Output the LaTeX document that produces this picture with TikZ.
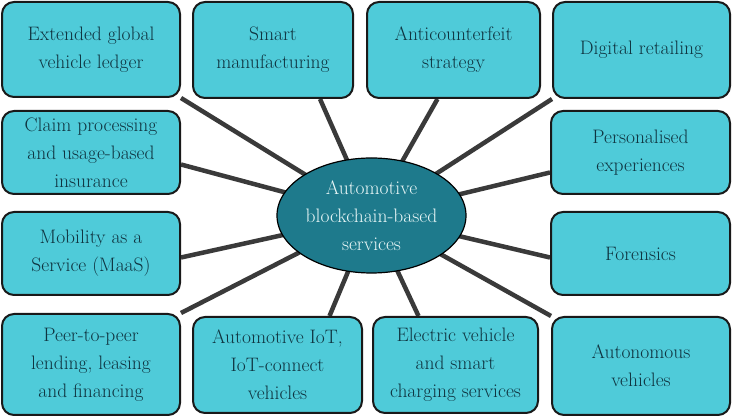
\documentclass[tikz,border=0pt]{standalone}
\usetikzlibrary{backgrounds,shapes.geometric}

\definecolor{boxfill}{HTML}{4FCBD9}
\definecolor{boxtext}{HTML}{0F3440}
\definecolor{hubfill}{HTML}{1E7A8C}
\definecolor{hubtext}{HTML}{E8F6F6}
\definecolor{spoke}{HTML}{3A3A3A}

\begin{document}
\begin{tikzpicture}[
  x=1pt, y=1pt,
  every node/.style={font=\fontsize{19.5}{28}\selectfont, align=center, inner sep=0pt},
  item/.style={rectangle, rounded corners=12pt, draw=black!90, line width=2pt,
    fill=boxfill, text=boxtext},
  hubnode/.style={ellipse, draw=black, line width=1.2pt, fill=hubfill, text=hubtext,
    minimum width=189pt, minimum height=115pt},
  link/.style={spoke, line width=4.5pt}
]
\useasboundingbox (0,0) rectangle (732,419);

% ---------- top row ----------
\node[item, minimum width=178pt, minimum height=95pt] (ledger) at (91,369.5)
  {Extended global\\vehicle ledger};
\node[item, minimum width=160pt, minimum height=96pt] (smart) at (273,369)
  {Smart\\manufacturing};
\node[item, minimum width=173pt, minimum height=96pt] (anti) at (453.5,369)
  {Anticounterfeit\\strategy};
\node[item, minimum width=177pt, minimum height=96pt] (retail) at (641.5,369)
  {Digital retailing};

% ---------- left column ----------
\node[item, minimum width=178pt, minimum height=83pt] (claim) at (91,266.5)
  {Claim processing\\and usage-based\\insurance};
\node[item, minimum width=178pt, minimum height=83pt] (maas) at (91,165.5)
  {Mobility as a\\Service (MaaS)};

% ---------- right column ----------
\node[item, minimum width=179pt, minimum height=83pt] (person) at (640.5,266.5)
  {Personalised\\experiences};
\node[item, minimum width=179pt, minimum height=83pt] (foren) at (640.5,165.5)
  {Forensics};

% ---------- bottom row ----------
\node[item, minimum width=178pt, minimum height=101pt] (peer) at (91,54.5)
  {Peer-to-peer\\lending, leasing\\and financing};
\node[item, minimum width=169pt, minimum height=96pt] (iot) at (277.5,54)
  {Automotive IoT,\\IoT-connect\\vehicles};
\node[item, minimum width=165pt, minimum height=96pt] (ev) at (455.5,54)
  {Electric vehicle\\and smart\\charging services};
\node[item, minimum width=178pt, minimum height=98pt] (auto) at (641,53)
  {Autonomous\\vehicles};

% ---------- hub ----------
\node[hubnode] (hub) at (371.5,203.5)
  {Automotive\\blockchain-based\\services};

% ---------- spokes ----------
\begin{scope}[on background layer]
  \draw[link] (ledger.south east) -- (hub.center);
  \draw[link] ([xshift=47pt]smart.south) -- (hub.center);
  \draw[link] ([xshift=-16pt]anti.south) -- (hub.center);
  \draw[link] (retail.south west) -- (hub.center);
  \draw[link] ([yshift=-12pt]claim.east) -- (hub.center);
  \draw[link] ([yshift=-20pt]person.west) -- (hub.center);
  \draw[link] ([yshift=-4pt]maas.east) -- (hub.center);
  \draw[link] ([yshift=-4pt]foren.west) -- (hub.center);
  \draw[link] (peer.north east) -- (hub.center);
  \draw[link] ([xshift=52pt]iot.north) -- (hub.center);
  \draw[link] ([xshift=-37pt]ev.north) -- (hub.center);
  \draw[link] (auto.north west) -- (hub.center);
\end{scope}

\end{tikzpicture}
\end{document}
